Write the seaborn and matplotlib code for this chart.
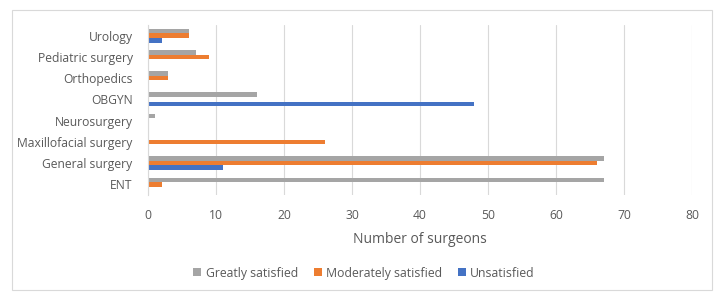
import pandas as pd
import seaborn as sns
import matplotlib.pyplot as plt
from matplotlib.patches import Rectangle

# Data (top to bottom)
specialties = ['Urology', 'Pediatric surgery', 'Orthopedics', 'OBGYN', 'Neurosurgery',
               'Maxillofacial surgery', 'General surgery', 'ENT']
greatly = [6, 7, 3, 16, 1, 0, 67, 67]
moderately = [6, 9, 3, 0, 0, 26, 66, 2]
unsatisfied = [2, 0, 0, 48, 0, 0, 11, 0]
levels = ['Greatly satisfied', 'Moderately satisfied', 'Unsatisfied']
colors = ['#A5A5A5', '#ED7D31', '#4472C4']

df = pd.DataFrame({'Specialty': specialties, levels[0]: greatly,
                   levels[1]: moderately, levels[2]: unsatisfied})
long_df = df.melt(id_vars='Specialty', var_name='Satisfaction', value_name='Count')

sns.set_style('white')
plt.rcParams['font.family'] = ['Open Sans', 'DejaVu Sans']

fig = plt.figure(figsize=(7.21, 3.01), dpi=100)
ax = fig.add_axes([0.2053, 0.352, 0.7545, 0.565])

sns.barplot(data=long_df, y='Specialty', x='Count', hue='Satisfaction',
            order=specialties, hue_order=levels, palette=colors,
            width=0.65, ax=ax, saturation=1, legend=True, linewidth=0)

ax.set_xlim(0, 80)
ax.set_xticks(range(0, 81, 10))
ax.set_ylim(7.5, -0.5)
ax.grid(axis='x', color='#D9D9D9', linewidth=0.8)
ax.set_axisbelow(True)
for s in ['top', 'right', 'bottom']:
    ax.spines[s].set_visible(False)
ax.spines['left'].set_color('#D9D9D9')
ax.tick_params(axis='both', length=0, labelsize=8.7, colors='#595959')
ax.tick_params(axis='x', pad=10)
ax.tick_params(axis='y', pad=11)
ax.set_ylabel('')
ax.set_xlabel('Number of surgeons', fontsize=10, color='#595959', labelpad=7)

handles, labels = ax.get_legend_handles_labels()
ax.legend(handles, labels, loc='center', bbox_to_anchor=(0.505, 0.093),
          bbox_transform=fig.transFigure, ncol=3, frameon=False,
          fontsize=8.8, handlelength=0.65, handleheight=0.65, handletextpad=0.35,
          columnspacing=1.3, labelcolor='#595959')

# chart border
fig.patches.append(Rectangle((12 / 721, 1 - 290 / 301), 700 / 721, 280 / 301,
                             transform=fig.transFigure, fill=False,
                             edgecolor='#D9D9D9', linewidth=0.8))

plt.savefig('out.png', dpi=100)
